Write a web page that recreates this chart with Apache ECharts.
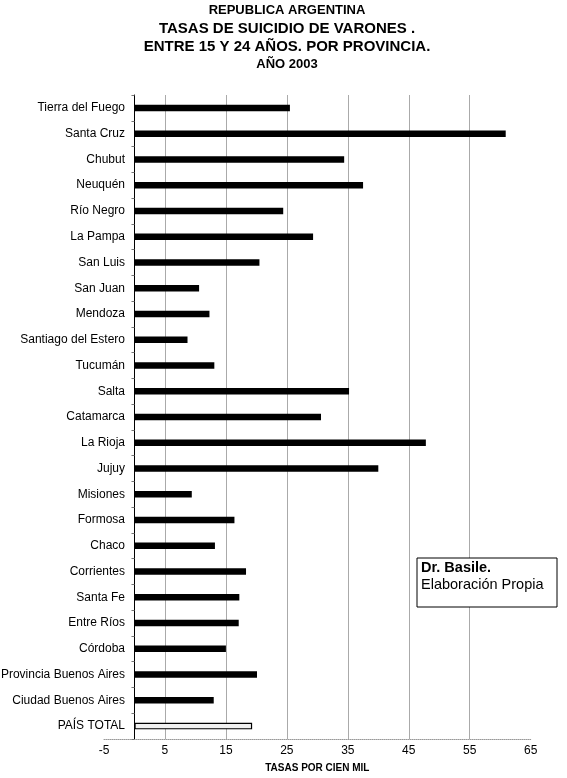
<!DOCTYPE html>
<html>
<head>
<meta charset="utf-8">
<script src="https://cdn.jsdelivr.net/npm/echarts@6/dist/echarts.min.js"></script>
<style>
html,body{margin:0;padding:0;background:#fff;}
#chart{width:567px;height:778px;}
</style>
</head>
<body>
<div id="chart"></div>
<script>
var categories = ['Tierra del Fuego','Santa Cruz','Chubut','Neuquén','Río Negro','La Pampa','San Luis','San Juan','Mendoza','Santiago del Estero','Tucumán','Salta','Catamarca','La Rioja','Jujuy','Misiones','Formosa','Chaco','Corrientes','Santa Fe','Entre Ríos','Córdoba','Provincia Buenos Aires','Ciudad Buenos Aires','PAÍS TOTAL'];
var values = [25.5, 60.9, 34.4, 37.5, 24.4, 29.3, 20.5, 10.6, 12.3, 8.7, 13.1, 35.2, 30.6, 47.8, 40.0, 9.4, 16.4, 13.2, 18.3, 17.2, 17.1, 15.0, 20.1, 13.0, 19.3];
var titleLines = ['REPUBLICA ARGENTINA','TASAS DE SUICIDIO DE VARONES .','ENTRE 15 Y 24 AÑOS. POR PROVINCIA.','AÑO 2003'];
var axisName = 'TASAS POR CIEN MIL';
var noteLines = ['Dr. Basile.','Elaboración Propia'];
var totalLabel = 'PAÍS TOTAL';

var FONT = '"Liberation Sans", Arial, sans-serif';
var chart = echarts.init(document.getElementById('chart'), null, {renderer:'canvas'});

var barData = values.map(function(v, i){
  if (categories[i] === totalLabel) {
    return {value: v, itemStyle: {color: '#f1f1f1', borderColor: '#000', borderWidth: 1.2}};
  }
  return v;
});

var titleSizes = [13, 15, 15, 13];
var titleY = [10, 28.5, 47, 64];

var graphics = titleLines.map(function(t, i){
  return {
    type: 'text', x: 287, y: titleY[i],
    style: {text: t, fill: '#000', font: 'bold ' + titleSizes[i] + 'px ' + FONT, textAlign: 'center', textVerticalAlign: 'middle'}
  };
});
graphics.push({
  type: 'rect', shape: {x: 417, y: 558, width: 140, height: 49},
  style: {fill: '#fff', stroke: '#000', lineWidth: 1}, z: 100
});
graphics.push({
  type: 'text', x: 421, y: 568, z: 101,
  style: {text: noteLines[0], fill: '#000', font: 'bold 14.5px ' + FONT, textAlign: 'left', textVerticalAlign: 'middle'}
});
graphics.push({
  type: 'text', x: 421, y: 585, z: 101,
  style: {text: noteLines[1], fill: '#000', font: '14.5px ' + FONT, textAlign: 'left', textVerticalAlign: 'middle'}
});

chart.setOption({
  backgroundColor: '#fff',
  animation: false,
  grid: {left: 104, right: 36.3, top: 95, bottom: 39, containLabel: false, outerBoundsMode: 'none'},
  xAxis: {
    type: 'value', min: -5, max: 65, interval: 10,
    name: axisName, nameLocation: 'middle', nameGap: 24,
    nameTextStyle: {fontFamily: FONT, fontWeight: 'bold', fontSize: 10, color: '#000'},
    axisLine: {show: true, lineStyle: {color: '#999', width: 1, type: 'dotted'}},
    axisTick: {show: false},
    axisLabel: {fontFamily: FONT, fontSize: 12, color: '#000', margin: 6},
    splitLine: {show: true, showMinLine: false, showMaxLine: false, lineStyle: {color: '#aaa', width: 1}}
  },
  yAxis: {
    type: 'category', data: categories, inverse: true,
    axisLine: {show: true, onZero: true, lineStyle: {color: '#000', width: 1}},
    axisTick: {show: true, length: 3, lineStyle: {color: '#777'}},
    axisLabel: {fontFamily: FONT, fontSize: 12, color: '#000', margin: -21}
  },
  series: [{
    type: 'bar', data: barData, barWidth: 6.5,
    itemStyle: {color: '#000'}
  }],
  graphic: graphics
});
</script>
</body>
</html>
